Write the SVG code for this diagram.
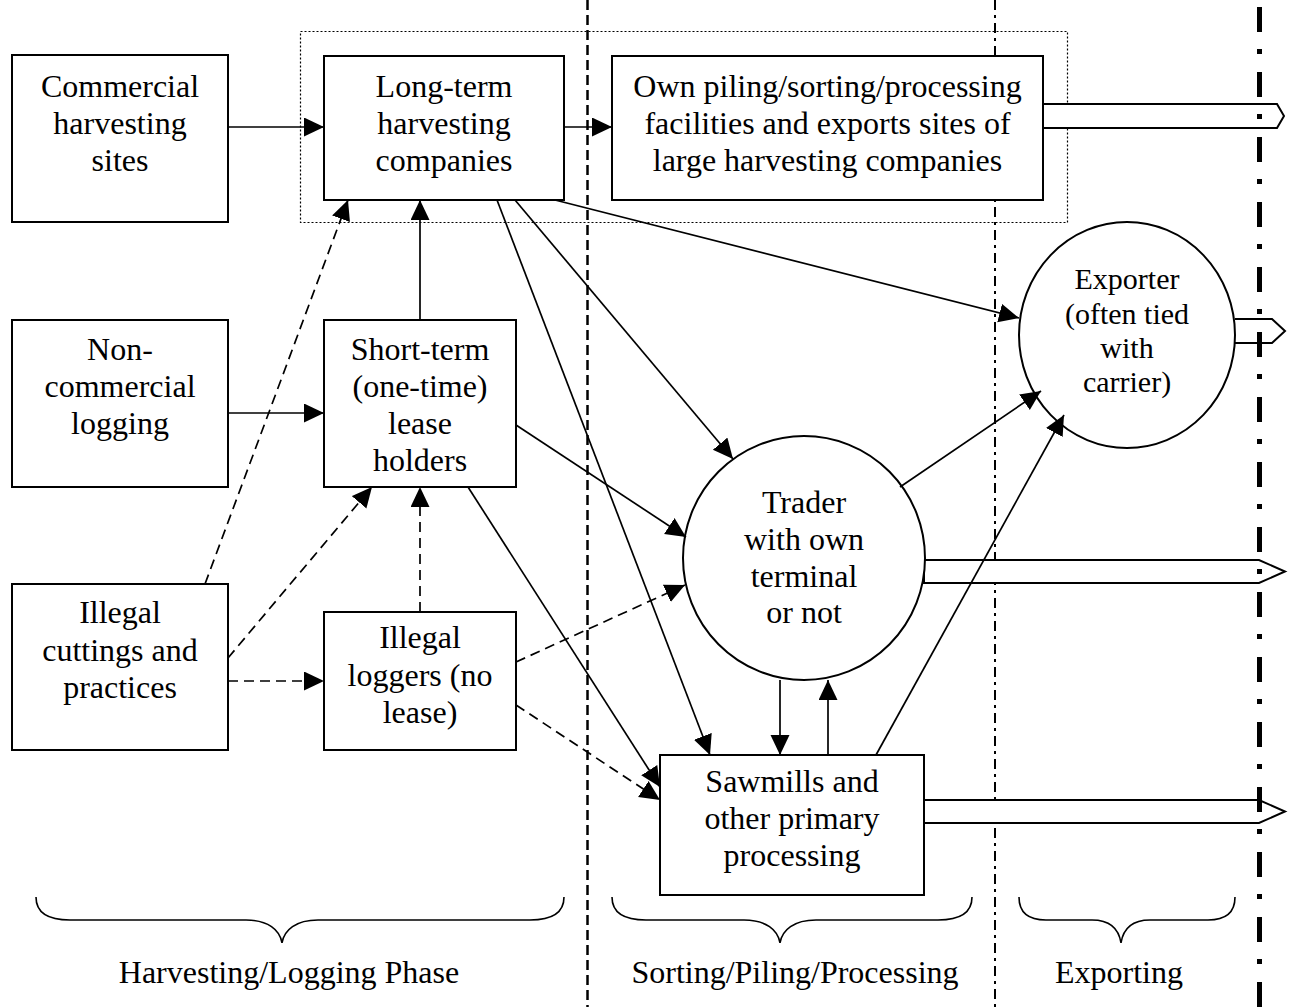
<svg xmlns="http://www.w3.org/2000/svg" width="1293" height="1007" viewBox="0 0 1293 1007">
<style>
text{font-family:"Liberation Serif","Times New Roman",serif;font-size:32px;fill:#000;text-anchor:middle}
.small{font-size:30px}
.box{fill:#fff;stroke:#000;stroke-width:2}
.blk{fill:#fff;stroke:#000;stroke-width:2}
.c{stroke:#000;stroke-width:1.7;fill:none;marker-end:url(#ah)}
.d{stroke-dasharray:10,6}
.brace{fill:none;stroke:#000;stroke-width:1.6}
</style>
<defs>
<marker id="ah" markerUnits="userSpaceOnUse" markerWidth="22" markerHeight="22" refX="20" refY="9.5" orient="auto">
<path d="M0,0 L20,9.5 L0,19 z" fill="#000"/>
</marker>
</defs>
<rect width="1293" height="1007" fill="#fff"/>
<g id="phase-lines">
<line x1="587.5" y1="0" x2="587.5" y2="1007" stroke="#000" stroke-width="2.5" stroke-dasharray="10,5"/>
<line x1="995" y1="0" x2="995" y2="1007" stroke="#000" stroke-width="2" stroke-dasharray="10,5,3,5"/>
</g>
<rect id="group-large" x="300.5" y="31.5" width="767" height="191" fill="none" stroke="#000" stroke-width="1.2" stroke-dasharray="2,2"/>
<g id="exports">
<path class="blk" d="M1043,104 H1277 L1284,116 L1277,128 H1043"/>
<path class="blk" d="M1235,319 H1272 L1285,331 L1272,343 H1235"/>
<path class="blk" d="M924,560 H1259 L1285,571.5 L1259,583 H924 Z"/>
<path class="blk" d="M924,800 H1259 L1285,811.5 L1259,823 H924 Z"/>
</g>
<g id="n-commercial"><rect class="box" x="12" y="55" width="216" height="167"/>
<text x="120" y="97">Commercial</text><text x="120" y="134">harvesting</text><text x="120" y="171">sites</text></g>
<g id="n-longterm"><rect class="box" x="324" y="56" width="240" height="144"/>
<text x="444" y="97">Long-term</text><text x="444" y="134">harvesting</text><text x="444" y="171">companies</text></g>
<g id="n-ownpiling"><rect class="box" x="612" y="56" width="431" height="144"/>
<text x="827.5" y="97">Own piling/sorting/processing</text><text x="827.5" y="134">facilities and exports sites of</text><text x="827.5" y="171">large harvesting companies</text></g>
<g id="n-noncommercial"><rect class="box" x="12" y="320" width="216" height="167"/>
<text x="120" y="360">Non-</text><text x="120" y="397">commercial</text><text x="120" y="434">logging</text></g>
<g id="n-shortterm"><rect class="box" x="324" y="320" width="192" height="167"/>
<text x="420" y="360">Short-term</text><text x="420" y="397">(one-time)</text><text x="420" y="434">lease</text><text x="420" y="471">holders</text></g>
<g id="n-illegalcuttings"><rect class="box" x="12" y="584" width="216" height="166"/>
<text x="120" y="623">Illegal</text><text x="120" y="661">cuttings and</text><text x="120" y="698">practices</text></g>
<g id="n-illegalloggers"><rect class="box" x="324" y="612" width="192" height="138"/>
<text x="420" y="648">Illegal</text><text x="420" y="686">loggers (no</text><text x="420" y="723">lease)</text></g>
<g id="n-exporter"><ellipse class="box" cx="1127" cy="335" rx="108" ry="113"/>
<text class="small" x="1127" y="289">Exporter</text><text class="small" x="1127" y="324">(often tied</text><text class="small" x="1127" y="358">with</text><text class="small" x="1127" y="392">carrier)</text></g>
<g id="n-trader"><ellipse class="box" cx="804" cy="558" rx="121" ry="122"/>
<text x="804" y="513">Trader</text><text x="804" y="550">with own</text><text x="804" y="587">terminal</text><text x="804" y="623">or not</text></g>
<g id="n-sawmills"><rect class="box" x="660" y="755" width="264" height="140"/>
<text x="792" y="792">Sawmills and</text><text x="792" y="829">other primary</text><text x="792" y="866">processing</text></g>
<g id="connectors">
<line class="c" x1="228" y1="127" x2="324" y2="127"/>
<line class="c" x1="564" y1="127" x2="612" y2="127"/>
<line class="c" x1="228" y1="413" x2="324" y2="413"/>
<line class="c" x1="420" y1="320" x2="420" y2="200"/>
<line class="c d" x1="205" y1="584" x2="348" y2="200"/>
<line class="c d" x1="228" y1="658" x2="372" y2="487"/>
<line class="c d" x1="228" y1="681" x2="324" y2="681"/>
<line class="c d" x1="420" y1="612" x2="420" y2="487"/>
<line class="c d" x1="516" y1="662" x2="685" y2="585"/>
<line class="c d" x1="516" y1="705" x2="660" y2="800"/>
<line class="c" x1="516" y1="425" x2="686" y2="537"/>
<line class="c" x1="468" y1="487" x2="660" y2="787"/>
<line class="c" x1="497" y1="200" x2="710" y2="755"/>
<line class="c" x1="515" y1="200" x2="733" y2="459"/>
<line class="c" x1="555" y1="200" x2="1019" y2="318"/>
<line class="c" x1="900" y1="487" x2="1041" y2="391"/>
<line class="c" x1="876" y1="755" x2="1064" y2="415"/>
<line class="c" x1="780" y1="680" x2="780" y2="755"/>
<line class="c" x1="828" y1="755" x2="828" y2="680"/>
</g>
<line id="border-line" x1="1259.5" y1="7" x2="1259.5" y2="1007" stroke="#000" stroke-width="5" stroke-dasharray="25,17,5,18"/>
<g id="phases">
<path class="brace" d="M36,897 C36,912 46,920 70,920 H246 C268,920 280,930 282,943 C284,930 296,920 318,920 H530 C554,920 564,912 564,897"/>
<path class="brace" d="M612,897 C612,912 622,920 646,920 H744 C766,920 778,930 780,943 C782,930 794,920 816,920 H938 C962,920 972,912 972,897"/>
<path class="brace" d="M1019,897 C1019,912 1027,920 1046,920 H1092 C1112,920 1119,930 1121,943 C1123,930 1130,920 1150,920 H1208 C1227,920 1235,912 1235,897"/>
<text x="289" y="983">Harvesting/Logging Phase</text>
<text x="795" y="983">Sorting/Piling/Processing</text>
<text x="1119" y="983">Exporting</text>
</g>
</svg>
